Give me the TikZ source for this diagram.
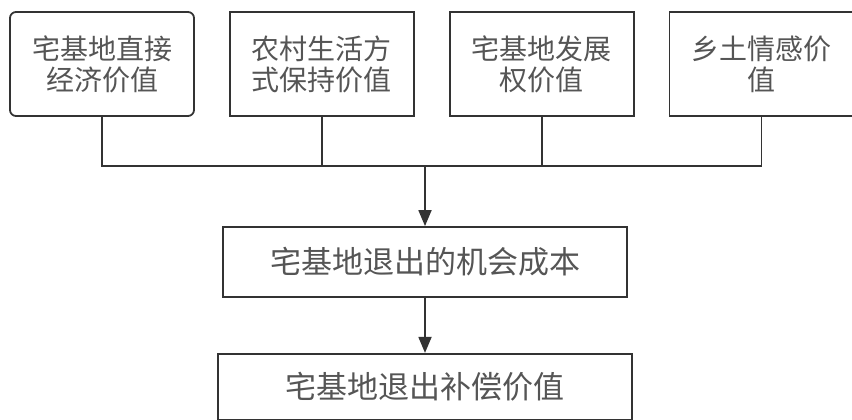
\documentclass[tikz,border=0pt]{standalone}
\usepackage{fontspec}
\setmainfont{Noto Sans CJK SC}
\usetikzlibrary{arrows.meta, positioning}
\definecolor{linegray}{HTML}{333333}
\definecolor{textgray}{HTML}{555555}

\begin{document}
\begin{tikzpicture}[
  x=1pt, y=-1pt,
  box/.style={draw=linegray, line width=1.8pt, minimum width=184pt, minimum height=104pt, align=center, text=textgray, font=\fontsize{28}{31}\selectfont, inner sep=0pt},
  wide/.style={box, minimum width=404pt, minimum height=70pt, font=\fontsize{31}{34}\selectfont},
  line/.style={draw=linegray, line width=1.8pt},
  arr/.style={line, -{Triangle[length=16pt, width=13pt]}}
]
\useasboundingbox (0,0) rectangle (852,420);
\node[box, rounded corners=6pt] (zjjj) at (102,64) {宅基地直接\\经济价值};
\node[box, right=34pt of zjjj] (shfs) {农村生活方\\式保持价值};
\node[box, right=34pt of shfs] (fzq) {宅基地发展\\权价值};
\node[box, right=34pt of fzq] (xtqg) {乡土情感价\\值};
\node[wide] (jhcb) at (425,262) {宅基地退出的机会成本};
\node[wide, minimum width=414pt, minimum height=66pt, below=55pt of jhcb] (bcjz) {宅基地退出补偿价值};

\coordinate (hub) at (425,166);
\draw[line] (zjjj.south) |- (hub) -| (xtqg.south);
\draw[line] (shfs.south) -- (shfs.south |- hub);
\draw[line] (fzq.south) -- (fzq.south |- hub);
\draw[arr] (hub) -- (jhcb);
\draw[arr] (jhcb) -- (bcjz);
\end{tikzpicture}
\end{document}
